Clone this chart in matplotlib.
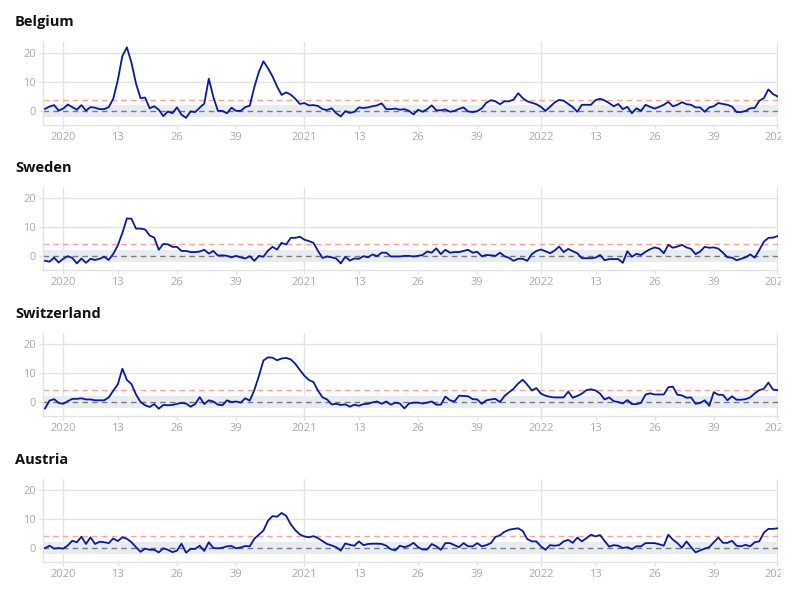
import matplotlib
matplotlib.use("Agg")
import matplotlib.pyplot as plt
from matplotlib.transforms import Bbox, TransformedBbox

# weekly series, first point = 2019 wk 49 (t=-4), last = 2023 wk 1 (t=157)
countries = ['Belgium', 'Sweden', 'Switzerland', 'Austria']

belgium = [0.8, 1.6, 2.1, 0.2,
           0.9, 2.3, 1.4, 0.5, 2.1, 0.2, 1.4, 1.2, 0.7, 0.7,
           1.4, 4.3, 10.7, 19, 22, 16.7, 9.5, 4.5, 4.7, 1.0,
           1.7, 0.5, -1.7, -0.1, -0.7, 1.3, -1.2, -2.3, -0.1, -0.3,
           1.2, 2.6, 11.2, 4.9, 0.1, 0.1, -0.7, 1.2, 0.1, 0.1,
           1.4, 1.9, 8.3, 13.5, 17.2, 14.8, 12.0, 8.5, 5.6, 6.5,
           5.7, 4.3, 2.5, 2.8, 2.0, 2.1, 1.8, 0.7, 0.4, 1.0,
           -0.7, -1.8, 0.0, -0.6, -0.2, 1.3, 1.1, 1.3, 1.7, 2.0,
           2.7, 0.7, 0.7, 0.9,
           0.5, 0.7, 0.1, -1.1, 0.5, -0.2, 0.7, 2.0, 0.3, 0.3,
           0.6, -0.2, 0.1, 0.8, 1.3, -0.1, -0.3, 0.0, 1.0, 2.9,
           3.8, 3.4, 2.4, 3.4, 3.4, 4.0, 6.2, 4.5, 3.4, 2.9,
           2.4, 1.5, 0.1, 1.5, 3.0, 3.9, 3.6, 2.5, 1.4, -0.2,
           2.2, 2.2, 2.2, 3.8, 4.3, 3.7, 2.8, 1.7, 2.5, 0.7,
           1.5, -0.7, 1.0, 0.1, 2.2, 1.5, 0.9, 1.5, 2.2, 3.2,
           1.7, 2.2, 3.1, 2.4, 2.2, 1.3, 1.3, -0.2, 1.3, 1.7,
           2.8, 2.5, 2.2, 1.6, -0.3, -0.3, 0.1, 1.0, 1.1, 3.6,
           4.5, 7.5, 5.9, 5.1]

sweden = [-1.7, -2.0, -0.6, -2.3, -1.0, -0.1, -0.7, -2.6, -0.9, -2.4,
          -1.0, -1.4, -1.0, -0.3, -1.4, 0.7, 3.6, 7.9, 12.9, 12.8,
          9.4, 9.4, 9.1, 7.0, 6.3, 2.1, 4.1, 4.0, 3.1, 3.1,
          1.7, 1.7, 1.3, 1.3, 1.5, 2.1, 0.8, 1.7, 0.1, 0.2,
          0.0, -0.5, 0.0, -0.5, -0.9, -0.1, -1.7, 0.0, -0.3, 1.8,
          3.1, 2.2, 4.5, 3.9, 6.2, 6.2, 6.6, 5.6, 5.1, 4.5,
          1.7, -0.7, -0.2, -0.5, -0.9, -2.6, -0.3, -1.6, -0.9, -1.0,
          -0.1, -0.5, 0.5, -0.1, 1.1, 1.1, -0.2, -0.2,
          -0.2, 0.0, 0.0, -0.2, 0.0, 0.3, 1.5, 1.1, 2.6, 0.6,
          2.1, 1.1, 1.3, 1.3, 1.7, 2.1, 1.1, 1.4, -0.1, 0.3,
          0.2, 0.0, 1.1, -0.1, -0.7, -1.7, -1.0, -1.0, -1.7, 0.6,
          1.7, 2.2, 1.6, 0.9, 1.8, 3.2, 1.3, 2.4, 1.6, 0.9,
          -0.8, -0.8, -0.8, -0.6, 0.3, -1.5, -1.1, -1.1, -1.1, -2.4,
          1.6, -0.3, 0.7, 0.3, 1.4, 2.3, 2.9, 2.5, 0.9, 3.8,
          2.8, 3.2, 3.8, 2.9, 2.4, 0.6, 1.5, 3.1, 2.8, 2.9,
          2.5, 1.1, -0.5, -0.6, -1.5, -1.0, -0.5, 0.5, -0.6, 2.0,
          4.9, 6.2, 6.3, 6.8]

switzerland = [-2.2, 0.5, 1.0, -0.3, -0.6, 0.3, 1.1, 1.1, 1.3, 0.9,
               0.9, 0.6, 0.6, 0.6, 1.6, 3.9, 6.1, 11.5, 7.6, 6.2,
               2.6, 0.0, -1.1, -1.7, -0.7, -2.3, -1.0, -1.1, -1.0, -0.6,
               -0.3, -0.5, -1.6, -0.7, 1.7, -0.7, 0.6, 0.2, -0.9, -1.1,
               0.6, 0.0, 0.2, -0.2, 1.3, 0.5, 4.1, 8.9, 14.3, 15.4,
               15.3, 14.4, 15.0, 15.2, 14.7, 13.2, 11.1, 9.1, 7.6, 6.9,
               3.9, 1.6, 0.9, -0.8, -0.6, -1.0, -0.8, -1.6, -0.9, -1.3,
               -0.7, -0.6, -0.1, 0.2, -0.6, 0.2, -0.9, -0.2,
               -0.5, -2.2, -0.5, -0.2, -0.2, -0.5, -0.2, 0.2, -0.9, -0.9,
               1.9, 0.6, 0.2, 2.2, 2.1, 2.0, 1.0, 0.9, -0.6, 0.6,
               0.9, 1.1, 0.0, 2.1, 3.4, 4.6, 6.4, 7.7, 6.0, 4.0,
               4.8, 2.9, 2.2, 1.8, 1.6, 1.6, 1.6, 3.6, 1.5, 2.1,
               2.9, 4.1, 4.4, 4.0, 2.9, 0.9, 1.6, 0.3, 0.0, -0.5,
               0.7, -0.7, -0.7, -0.3, 2.6, 3.0, 2.6, 2.6, 2.6, 5.1,
               5.3, 2.5, 2.3, 1.5, 1.6, -0.6, -0.3, 0.6, -1.3, 3.4,
               2.5, 2.5, 0.6, 2.0, 0.8, 0.8, 1.0, 1.6, 3.0, 4.1,
               4.6, 6.7, 4.3, 4.1]

austria = [0.0, 0.8, -0.2, 0.0, -0.2, 0.9, 2.5, 2.0, 3.9, 1.4,
           3.7, 1.4, 2.2, 2.0, 1.7, 3.3, 2.4, 3.7, 3.2, 2.0,
           0.3, -1.3, -0.2, -0.6, -0.6, -1.5, -0.1, -0.6, -1.4, -0.9,
           1.5, -1.6, -0.3, -0.3, 0.8, -1.0, 2.0, 0.0, -0.1, 0.1,
           0.6, 0.7, -0.1, 0.2, 0.7, 0.6, 3.2, 4.6, 6.0, 9.4,
           11.0, 10.8, 12.1, 11.1, 8.2, 6.2, 4.7, 4.0, 3.7, 4.1,
           3.4, 2.4, 1.4, 0.9, 0.3, -0.9, 1.6, 1.1, 0.8, 2.3,
           1.0, 1.4, 1.5, 1.5, 1.4, 0.8, -0.4, -0.8,
           0.8, 0.3, 0.8, 1.8, 0.3, -0.5, -0.5, 1.4, 0.6, -0.6,
           1.7, 1.7, 1.0, 0.3, 1.7, 0.6, 0.6, 1.7, 0.6, 1.0,
           1.7, 3.8, 4.4, 5.6, 6.3, 6.6, 6.8, 5.9, 3.1, 2.3,
           2.3, 0.6, -0.6, 1.0, 0.8, 1.0, 2.3, 2.8, 1.8, 3.6,
           2.3, 3.4, 4.6, 4.0, 4.5, 2.4, 0.5, 1.0, 0.8, 0.0,
           0.3, -0.4, 0.6, 0.6, 1.7, 1.7, 1.7, 1.3, 0.8, 4.6,
           2.9, 1.7, 0.1, 2.3, 0.3, -1.5, -0.8, -0.2, 0.3, 2.0,
           3.6, 1.8, 1.8, 2.5, 0.8, 0.6, 1.1, 0.6, 2.0, 2.3,
           5.3, 6.6, 6.6, 6.8]

series = [belgium, sweden, switzerland, austria]
weeks = list(range(-4, 158))

# x ticks (weeks counted from 2020 wk 1; 2020 had 53 weeks)
tick_pos = [0, 12, 25, 38, 53, 65, 78, 91, 105, 117, 130, 143, 157]
tick_lab = ['2020', '13', '26', '39', '2021', '13', '26', '39',
            '2022', '13', '26', '39', '2023']
year_pos = [0, 53, 105, 157]
y_ticks = [0, 10, 20]

plt.rcParams['font.family'] = ['Open Sans', 'DejaVu Sans']

fig = plt.figure(figsize=(8, 5.93), dpi=100)
bottoms = [0.789, 0.545, 0.2985, 0.0523]
title_y = [22, 168, 314, 460]

grid_c = '#e3e3e3'
clip = TransformedBbox(Bbox([[0, 0], [781 / 800, 1]]), fig.transFigure)

for k in range(4):
    ax = fig.add_axes([0.054, bottoms[k], 0.919, 0.14])
    ax.set_xlim(-4.4, 157.2)
    ax.set_ylim(-4.8, 23.8)

    # grid
    for yv in y_ticks:
        ax.axhline(yv, color=grid_c, lw=1, zorder=0)
    for xv in year_pos:
        ax.axvline(xv, color=grid_c, lw=1, zorder=0)

    # normal band and thresholds
    ax.axhspan(-2, 2, color='#e8ecf1', lw=0, zorder=1)
    ax.axhline(4, color='#f6a49c', lw=1, ls=(0, (4, 3)), zorder=2)
    ax.axhline(0, color='#7a7a7a', lw=1, ls=(0, (4, 3)), zorder=2)

    ax.plot(weeks, series[k], color='#0a1a9c', lw=1.3, zorder=3)

    for s in ['top', 'right']:
        ax.spines[s].set_visible(False)
    for s in ['left', 'bottom']:
        ax.spines[s].set_color(grid_c)
        ax.spines[s].set_linewidth(1)

    ax.set_xticks(tick_pos)
    ax.set_xticklabels(tick_lab)
    ax.set_yticks(y_ticks)
    ax.tick_params(length=3, width=1, color=grid_c, labelsize=8,
                   labelcolor='#aaaaaa', pad=2)
    for lbl in ax.get_xticklabels():
        lbl.set_clip_box(clip)
        lbl.set_clip_on(True)

    fig.text(15 / 800, 1 - title_y[k] / 593, countries[k], fontsize=10.5,
             fontweight='bold', color='#111111', ha='left', va='center')

plt.savefig('out.png', dpi=100)
